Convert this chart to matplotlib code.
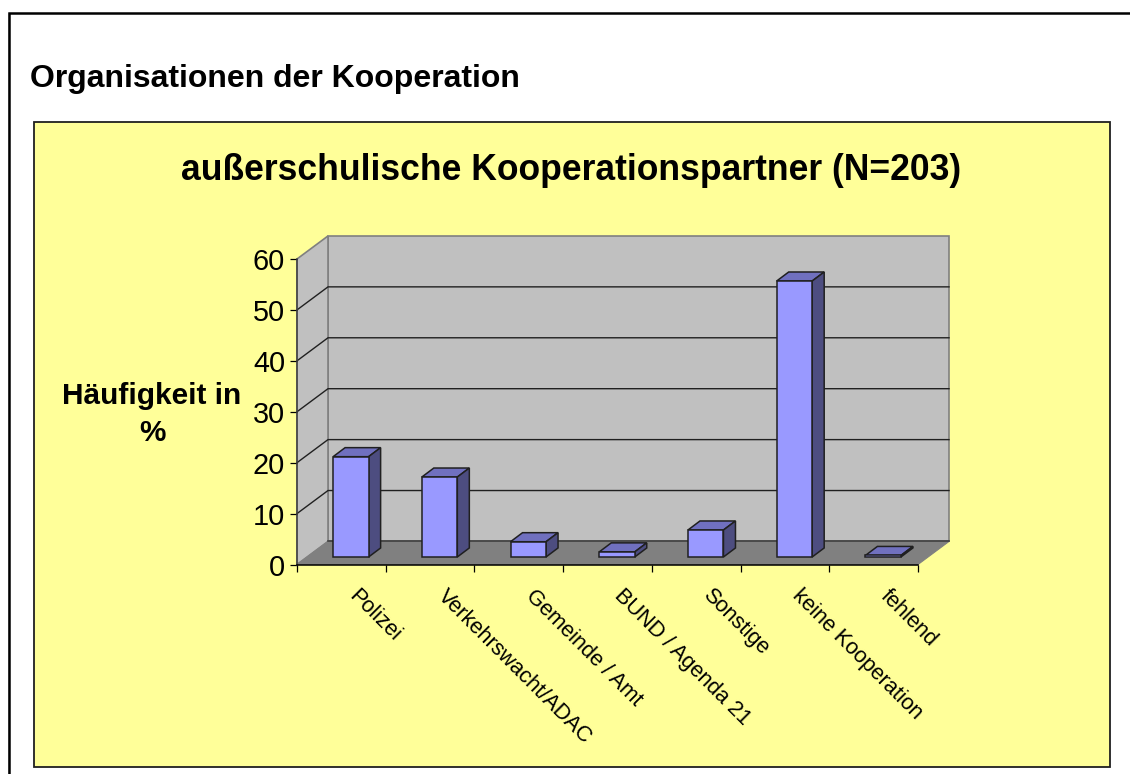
import matplotlib
matplotlib.use('Agg')
import matplotlib.pyplot as plt
from matplotlib.patches import Polygon, Rectangle

plt.rcParams['font.family'] = ['Liberation Sans', 'DejaVu Sans']

W = 1130
H = 774

categories = ['Polizei', 'Verkehrswacht/ADAC', 'Gemeinde / Amt', 'BUND / Agenda 21',
              'Sonstige', 'keine Kooperation', 'fehlend']
values = [19.7, 15.7, 3.0, 1.0, 5.3, 54.2, 0.3]
y_ticks = [0, 10, 20, 30, 40, 50, 60]

yellow = '#FFFF99'
wall = '#C0C0C0'
floor = '#808080'
front = '#9999FF'
top = '#7070BF'
side = '#4D4D80'

# depth of the box and of the bars, in data units
depth_x = 31 / 88.7
depth_y = 23 / 5.08
bar_dx = 12 / 88.7
bar_dy = 9 / 5.08
off_x = 9.5 / 88.7
off_y = 7.5 / 5.08
bar_w = 35.5 / 88.7


def px_rect(x0, y0, x1, y1):
    return [x0 / W, 1 - y1 / H, (x1 - x0) / W, (y1 - y0) / H]


fig = plt.figure(figsize=(W / 100, H / 100), dpi=100, facecolor='white')

bg = fig.add_axes([0, 0, 1, 1])
bg.set_xlim(0, W)
bg.set_ylim(H, 0)
bg.axis('off')
# outer frame runs off the right and bottom edge
bg.add_patch(Rectangle((9, 14), 1200, 800, fc='white', ec='#B0B0B0', lw=1.8))
bg.add_patch(Rectangle((8.5, 13.2), 1200, 800, fc='white', ec='black', lw=1.8))
bg.add_patch(Rectangle((34, 122), 1076, 645, fc=yellow, ec='#202020', lw=1.3))

ax = fig.add_axes(px_rect(297, 259, 918, 564.5))
ax.patch.set_alpha(0)
ax.set_xlim(0, 7)
ax.set_ylim(0, 60)
for s in ['top', 'right']:
    ax.spines[s].set_visible(False)
for s in ['left', 'bottom']:
    ax.spines[s].set_linewidth(1.1)
    ax.spines[s].set_zorder(6)
ax.spines['left'].set_color('#404040')

# back wall, side wall, floor
ax.add_patch(Polygon([(depth_x, depth_y), (7 + depth_x, depth_y), (7 + depth_x, 60 + depth_y), (depth_x, 60 + depth_y)],
                     fc=wall, ec='#808080', lw=1.2, clip_on=False, zorder=1))
ax.add_patch(Polygon([(0, 0), (depth_x, depth_y), (depth_x, 60 + depth_y), (0, 60)],
                     fc=wall, ec='#808080', lw=1.2, clip_on=False, zorder=1))
ax.add_patch(Polygon([(0, 0), (7, 0), (7 + depth_x, depth_y), (depth_x, depth_y)],
                     fc=floor, ec='#808080', lw=0.8, clip_on=False, zorder=1))

for t in y_ticks[1:-1]:
    ax.plot([0, depth_x, 7 + depth_x], [t, t + depth_y, t + depth_y], color='#202020', lw=1.0,
            clip_on=False, zorder=2)
ax.plot([depth_x, 7 + depth_x], [depth_y, depth_y], color='#404040', lw=1.2, clip_on=False, zorder=2)

for i, v in enumerate(values):
    x0 = i + 0.5 + off_x - bar_w / 2
    x1 = x0 + bar_w
    y0 = off_y
    y1 = off_y + v
    ax.add_patch(Polygon([(x0, y1), (x1, y1), (x1 + bar_dx, y1 + bar_dy), (x0 + bar_dx, y1 + bar_dy)],
                         fc=top, ec='#202020', lw=1.1, clip_on=False, zorder=3))
    ax.add_patch(Polygon([(x1, y0), (x1 + bar_dx, y0 + bar_dy), (x1 + bar_dx, y1 + bar_dy), (x1, y1)],
                         fc=side, ec='#202020', lw=1.1, clip_on=False, zorder=3))
    ax.add_patch(Polygon([(x0, y0), (x1, y0), (x1, y1), (x0, y1)],
                         fc=front, ec='#202020', lw=1.1, clip_on=False, zorder=4))

ax.set_yticks(y_ticks)
ax.set_xticks(range(8))
ax.set_xticklabels([])
ax.tick_params(axis='y', direction='out', length=5, width=0.9, labelsize=20.8, pad=3.6)
ax.tick_params(axis='x', direction='out', length=5, width=0.9)

# rotated category labels, placed from the start of the text
for i, c in enumerate(categories):
    ax.annotate(c, xy=(i + 0.5, 0), xycoords=('data', 'data'), xytext=(7.5, -20.5), textcoords='offset points',
                rotation=-45, rotation_mode='anchor', ha='left', va='center', fontsize=15.7, color='black')

fig.text(30 / W, 1 - 79.5 / H, 'Organisationen der Kooperation', fontsize=23, fontweight='bold',
         ha='left', va='center')
fig.text(571.5 / W, 1 - 170.5 / H, 'außerschulische Kooperationspartner (N=203)', fontsize=25.6,
         fontweight='bold', ha='center', va='center')
fig.text(152 / W, 1 - 414.5 / H, 'Häufigkeit in\n%', fontsize=21.4, fontweight='bold', ha='center', va='center',
         linespacing=1.42)

fig.savefig('out.png', dpi=100)
